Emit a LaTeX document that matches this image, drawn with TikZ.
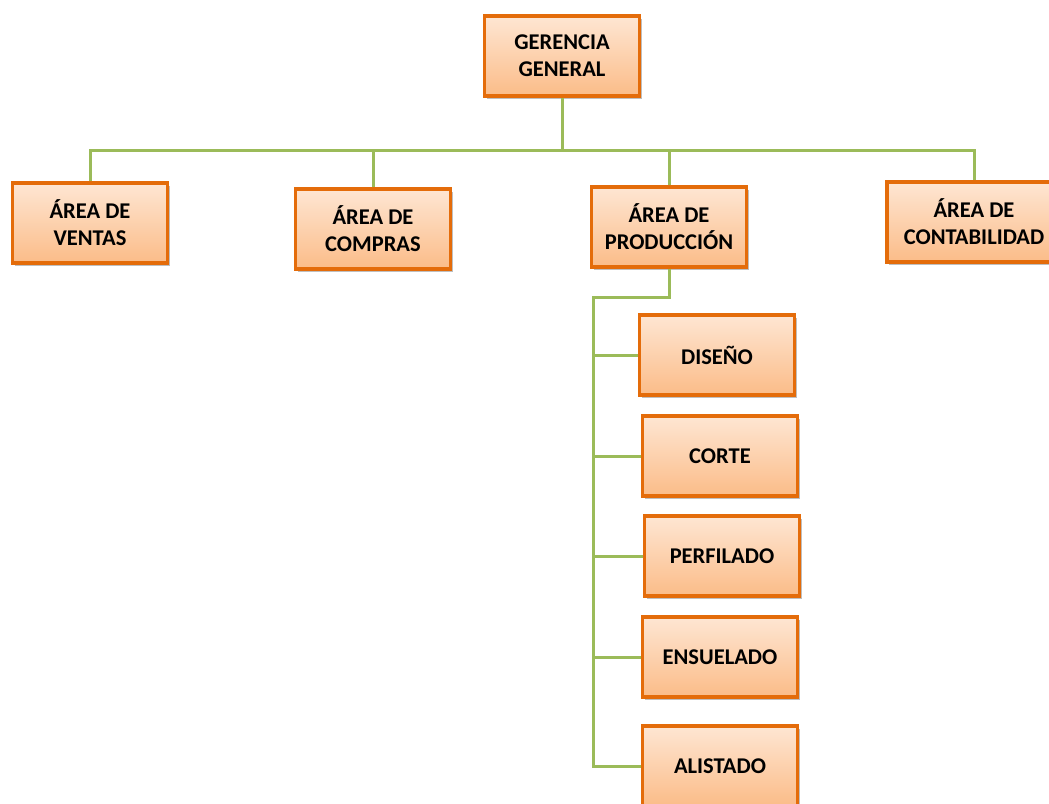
\documentclass[tikz,border=0pt]{standalone}
\usepackage{fontspec}
\setmainfont{Carlito}
\usetikzlibrary{shadows}
\definecolor{boxborder}{HTML}{E46C0A}
\definecolor{boxtop}{HTML}{FEE6D3}
\definecolor{boxbot}{HTML}{FBBC88}
\definecolor{linkgreen}{HTML}{9BBB59}
\begin{document}
\begin{tikzpicture}[x=1pt,y=-1pt,
  orgbox/.style={draw=boxborder, line width=3.2pt, top color=boxtop, bottom color=boxbot,
    minimum width=155pt, minimum height=80pt, inner sep=0pt, align=center,
    font=\fontsize{22.5}{27}\selectfont\bfseries,
    drop shadow={shadow xshift=2pt, shadow yshift=-3pt, opacity=0.25, fill=black}},
  link/.style={draw=linkgreen, line width=3pt}]
\useasboundingbox (0,0) rectangle (1049,803);
\clip (0,0) rectangle (1049,803);
\node[orgbox] (gg) at (562,56) {GERENCIA\\GENERAL};
\node[orgbox] (ven) at (90,223) {ÁREA DE\\VENTAS};
\node[orgbox] (com) at (373,229) {ÁREA DE\\COMPRAS};
\node[orgbox] (pro) at (669,227) {ÁREA DE\\PRODUCCIÓN};
\node[orgbox, minimum width=174pt] (con) at (974,222) {ÁREA DE\\CONTABILIDAD};
\node[orgbox] (dis) at (717,355) {DISEÑO};
\node[orgbox] (cor) at (720,456) {CORTE};
\node[orgbox] (per) at (722,556) {PERFILADO};
\node[orgbox] (ens) at (720,657) {ENSUELADO};
\node[orgbox] (ali) at (720,766) {ALISTADO};
% connectors
\coordinate (bus) at (562,150);
\coordinate (pbus) at (669,297);
\coordinate (pl) at (593,297);
\begin{scope}[on background layer/.try]
\draw[link] (gg.south) -- (bus);
\draw[link] (ven.north) -- (ven.north |- bus) -- (con.north |- bus) -- (con.north);
\draw[link] (com.north) -- (com.north |- bus);
\draw[link] (pro.north) -- (pro.north |- bus);
\draw[link] (pro.south) -- (pbus) -- (pl) -- (pl |- ali.west) -- (ali.west);
\draw[link] (pl |- dis.west) -- (dis.west);
\draw[link] (pl |- cor.west) -- (cor.west);
\draw[link] (pl |- per.west) -- (per.west);
\draw[link] (pl |- ens.west) -- (ens.west);
\end{scope}
\end{tikzpicture}
\end{document}
